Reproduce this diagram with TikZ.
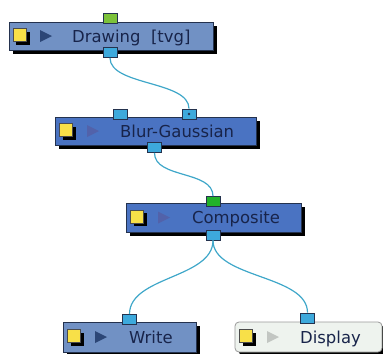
\documentclass[tikz,border=0pt]{standalone}
\usepackage{fontspec}
\setmainfont{DejaVu Sans}
\usetikzlibrary{shadows}
\definecolor{boxlight}{HTML}{7191C4}
\definecolor{boxdark}{HTML}{4A73C2}
\definecolor{boxwhite}{HTML}{EEF3EE}
\definecolor{edgeC}{HTML}{24324E}
\definecolor{portC}{HTML}{3DA9DC}
\definecolor{greenA}{HTML}{7CC23A}
\definecolor{greenB}{HTML}{22B22A}
\definecolor{wireC}{HTML}{3FA7C9}
\definecolor{textC}{HTML}{18244A}
\definecolor{triDark}{HTML}{2C4676}
\definecolor{triMid}{HTML}{5262AA}
\definecolor{triGrey}{HTML}{C2C6C2}
\definecolor{yellowC}{HTML}{F8E048}
\begin{document}
\begin{tikzpicture}[x=1bp,y=-1bp,
  nodebox/.style={draw=edgeC, line width=0.8bp, inner sep=0, minimum height=28bp,
    drop shadow={shadow xshift=4bp, shadow yshift=-4bp, fill=black, opacity=1}},
  port/.style={draw=edgeC, fill=portC, line width=0.8bp, minimum width=14bp, minimum height=10bp, inner sep=0},
  yicon/.style={draw=black!70, fill=yellowC, line width=0.5bp, minimum width=13bp, minimum height=13bp, inner sep=0,
    drop shadow={shadow xshift=3bp, shadow yshift=-3bp, fill=black, opacity=1}},
  lbl/.style={text=textC, font=\fontsize{16.5}{19}\selectfont, inner sep=0, anchor=base west},
  wire/.style={draw=wireC, line width=1.2bp}
]
\useasboundingbox (0,0) rectangle (383,354);

% boxes
\node[nodebox, fill=boxlight, minimum width=204bp] (draw) at (111,36) {};
\node[nodebox, fill=boxdark, minimum width=201bp] (blur) at (155.5,131) {};
\node[nodebox, fill=boxdark, minimum width=175bp, minimum height=29bp] (comp) at (213.5,217.5) {};
\node[nodebox, fill=boxlight, minimum width=133bp, minimum height=30bp] (write) at (129.5,337) {};
\node[nodebox, fill=boxwhite, draw=black!40, rounded corners=4bp, minimum width=147bp, minimum height=30bp] (disp) at (308.5,337) {};

% icons
\node[yicon] (y1) at (20,35) {};
\fill[triDark] (40,30) -- (52,36) -- (40,42) -- cycle;
\node[yicon] (y2) at (66,130) {};
\fill[triMid] (87,125) -- (99,131) -- (87,137) -- cycle;
\node[yicon] (y3) at (137,216.5) {};
\fill[triMid] (158,211.5) -- (170,217.5) -- (158,223.5) -- cycle;
\node[yicon] (y4) at (74,336) {};
\fill[triDark] (95,331) -- (107,337) -- (95,343) -- cycle;
\node[yicon] (y5) at (246,336) {};
\fill[triGrey] (267,331) -- (279,337) -- (267,343) -- cycle;

% labels
\node[lbl] (t1) at (72,42) {Drawing~~[tvg]};
\node[lbl] (t2) at (120,137) {Blur-Gaussian};
\node[lbl] (t3) at (192,223) {Composite};
\node[lbl] (t4) at (129,343) {Write};
\node[lbl] (t5) at (300,343) {Display};

% ports
\node[port, fill=greenA] (p1) at (110,18.5) {};
\node[port] (p2) at (110,52.5) {};
\node[port] (p3) at (120.5,114) {};
\node[port] (p4) at (189,114) {};
\node[port] (p5) at (154.5,147.5) {};
\node[port, fill=greenB] (p6) at (213,201.5) {};
\node[port] (p7) at (213,235) {};
\node[port] (p8) at (129.5,319.5) {};
\node[port] (p9) at (307.5,318) {};

% wires (behind ports is not needed visually; drawn from port edges)
\draw[wire] (p2.south) .. controls +(0,28) and +(0,-28) .. (p4.north);
\draw[wire] (p5.south) .. controls +(0,26) and +(0,-26) .. (p6.north);
\draw[wire] (p7.south) .. controls +(0,38) and +(0,-38) .. (p8.north);
\draw[wire] (p7.south) .. controls +(0,38) and +(0,-38) .. (p9.north);
\fill[edgeC] (p4.center) circle (1.3bp);
\end{tikzpicture}
\end{document}
